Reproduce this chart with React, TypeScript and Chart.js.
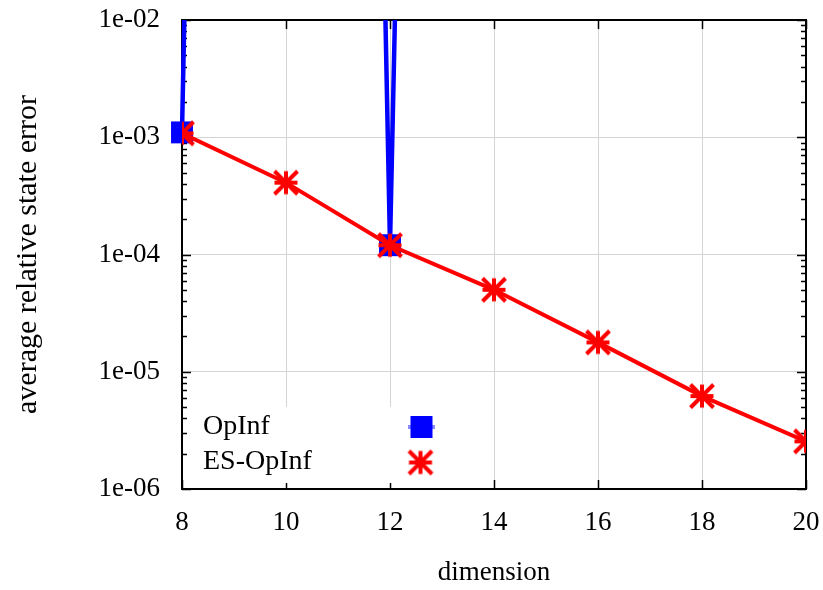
import React, { useEffect, useRef } from 'react';
import { Chart, registerables } from 'chart.js';

Chart.register(...registerables);

// ---- data ----
const dimensions = [8, 10, 12, 14, 16, 18, 20];
const opInfErrors = [1.1e-3, 1e40, 1.2e-4, 1e37, 1e36, 1e38, 1e35];
const esOpInfErrors = [1.08e-3, 4.1e-4, 1.2e-4, 5.0e-5, 1.78e-5, 6.2e-6, 2.55e-6];
const xTicks = [8, 10, 12, 14, 16, 18, 20];
const yTicks = [1e-6, 1e-5, 1e-4, 1e-3, 1e-2];
const yTickLabels = ['1e-06', '1e-05', '1e-04', '1e-03', '1e-02'];
const seriesNames = ['OpInf', 'ES-OpInf'];
const xTitle = 'dimension';
const yTitle = 'average relative state error';

const FONT = "'Liberation Serif', 'Times New Roman', serif";
const BLUE = '#0000ff';
const RED = '#ff0000';

function makeAsterisk(): HTMLCanvasElement {
  const c = document.createElement('canvas');
  c.width = 32;
  c.height = 32;
  const ctx = c.getContext('2d')!;
  const m = 16;
  const h = 11.5;
  ctx.strokeStyle = RED;
  ctx.lineWidth = 4;
  ctx.beginPath();
  ctx.moveTo(m - h, m); ctx.lineTo(m + h, m);
  ctx.moveTo(m, m - h); ctx.lineTo(m, m + h);
  ctx.moveTo(m - h, m - h); ctx.lineTo(m + h, m + h);
  ctx.moveTo(m - h, m + h); ctx.lineTo(m + h, m - h);
  ctx.stroke();
  return c;
}

export default function App() {
  const ref = useRef<HTMLCanvasElement | null>(null);

  useEffect(() => {
    document.body.style.margin = '0';
    const asterisk = makeAsterisk();

    const drawFrame = (chart: any, minorOnly: boolean) => {
      const { ctx, chartArea: a } = chart;
      const ys = chart.scales.y;
      const xs = chart.scales.x;
      ctx.save();
      ctx.strokeStyle = '#000';
      ctx.lineWidth = 1.5;
      ctx.beginPath();
      for (let i = 0; i < yTicks.length; i++) {
        const base = yTicks[i];
        const py = Math.round(ys.getPixelForValue(base)) + 0.5;
        ctx.moveTo(a.left, py); ctx.lineTo(a.left + 9, py);
        ctx.moveTo(a.right, py); ctx.lineTo(a.right - 9, py);
        if (i < yTicks.length - 1) {
          for (let k = 2; k <= 9; k++) {
            const p = Math.round(ys.getPixelForValue(base * k)) + 0.5;
            ctx.moveTo(a.left, p); ctx.lineTo(a.left + 5, p);
            ctx.moveTo(a.right, p); ctx.lineTo(a.right - 5, p);
          }
        }
      }
      if (!minorOnly) {
        for (const t of xTicks) {
          const px = Math.round(xs.getPixelForValue(t)) + 0.5;
          ctx.moveTo(px, a.bottom); ctx.lineTo(px, a.bottom - 9);
          ctx.moveTo(px, a.top); ctx.lineTo(px, a.top + 9);
        }
      }
      ctx.stroke();
      ctx.restore();
    };

    const framePlugin = {
      id: 'gnuplotFrame',
      beforeDatasetsDraw(chart: any) {
        const { ctx, chartArea: a } = chart;
        drawFrame(chart, false);
        ctx.save();
        ctx.strokeStyle = '#000';
        ctx.lineWidth = 2;
        ctx.strokeRect(a.left, a.top, a.right - a.left, a.bottom - a.top);
        ctx.restore();
      },
      afterDatasetsDraw(chart: any) {
        const { ctx } = chart;
        ctx.save();
        ctx.fillStyle = '#fff';
        ctx.fillRect(190, 407, 256, 76);
        ctx.fillStyle = '#000';
        ctx.font = `28px ${FONT}`;
        ctx.textBaseline = 'middle';
        ctx.textAlign = 'left';
        ctx.fillText(seriesNames[0], 203, 427);
        ctx.fillText(seriesNames[1], 203, 462);
        ctx.strokeStyle = 'rgba(0,0,255,0.45)';
        ctx.lineWidth = 4;
        ctx.beginPath();
        ctx.moveTo(408, 427); ctx.lineTo(435, 427);
        ctx.stroke();
        ctx.fillStyle = BLUE;
        ctx.fillRect(421.5 - 11, 427 - 11, 22, 22);
        ctx.drawImage(asterisk, 420.5 - 16, 462.5 - 16);
        ctx.restore();
      },
    };

    const chart = new Chart(ref.current!, {
      type: 'line',
      data: {
        datasets: [
          {
            label: seriesNames[1],
            data: dimensions.map((d, i) => ({ x: d, y: esOpInfErrors[i] })),
            borderColor: RED,
            backgroundColor: RED,
            borderWidth: 4,
            pointStyle: asterisk as any,
            pointRadius: 13,
            tension: 0,
          },
          {
            label: seriesNames[0],
            data: dimensions.map((d, i) => ({ x: d, y: opInfErrors[i] })),
            borderColor: BLUE,
            backgroundColor: BLUE,
            borderWidth: 4.5,
            pointStyle: 'rect',
            pointRadius: 15.5,
            pointBorderWidth: 0,
            tension: 0,
            clip: { left: 16, right: 16, top: 0, bottom: 16 } as any,
          },
        ],
      },
      plugins: [framePlugin],
      options: {
        responsive: false,
        animation: false,
        events: [],
        layout: { padding: { left: 0, top: 20, right: 16, bottom: 0 } },
        plugins: { legend: { display: false }, tooltip: { enabled: false } },
        scales: {
          x: {
            type: 'linear',
            min: 8,
            max: 20,
            afterBuildTicks: (s: any) => { s.ticks = xTicks.map((v) => ({ value: v })); },
            afterFit: (s: any) => {
              s.height = 101;
              s.paddingLeft = 0; s.paddingRight = 0; s.paddingTop = 0; s.paddingBottom = 0;
            },
            ticks: {
              color: '#000',
              font: { family: FONT, size: 27 },
              padding: 18,
              maxRotation: 0,
              callback: (v: any) => String(v),
            },
            grid: { color: '#d4d4d4', lineWidth: 1, drawTicks: false },
            border: { display: false },
            title: {
              display: true,
              text: xTitle,
              color: '#000',
              font: { family: FONT, size: 27 },
              padding: { top: 0, bottom: 1 },
            },
          },
          y: {
            type: 'logarithmic',
            min: 1e-6,
            max: 1e-2,
            afterBuildTicks: (s: any) => { s.ticks = yTicks.map((v) => ({ value: v })); },
            afterFit: (s: any) => {
              s.width = 182;
              s.paddingLeft = 0; s.paddingRight = 0; s.paddingTop = 0; s.paddingBottom = 0;
            },
            ticks: {
              color: '#000',
              font: { family: FONT, size: 27 },
              padding: 22,
              callback: (v: any) => {
                const i = yTicks.findIndex((t) => Math.abs(Math.log10(t) - Math.log10(v)) < 1e-6);
                return i >= 0 ? yTickLabels[i] : '';
              },
            },
            grid: { color: '#d4d4d4', lineWidth: 1, drawTicks: false },
            border: { display: false },
            title: {
              display: true,
              text: yTitle,
              color: '#000',
              font: { family: FONT, size: 30 },
              padding: { top: 10, bottom: 0 },
            },
          },
        },
      },
    } as any);

    return () => chart.destroy();
  }, []);

  return (
    <div style={{ width: 823, height: 590 }}>
      <canvas ref={ref} width={823} height={590} />
    </div>
  );
}
